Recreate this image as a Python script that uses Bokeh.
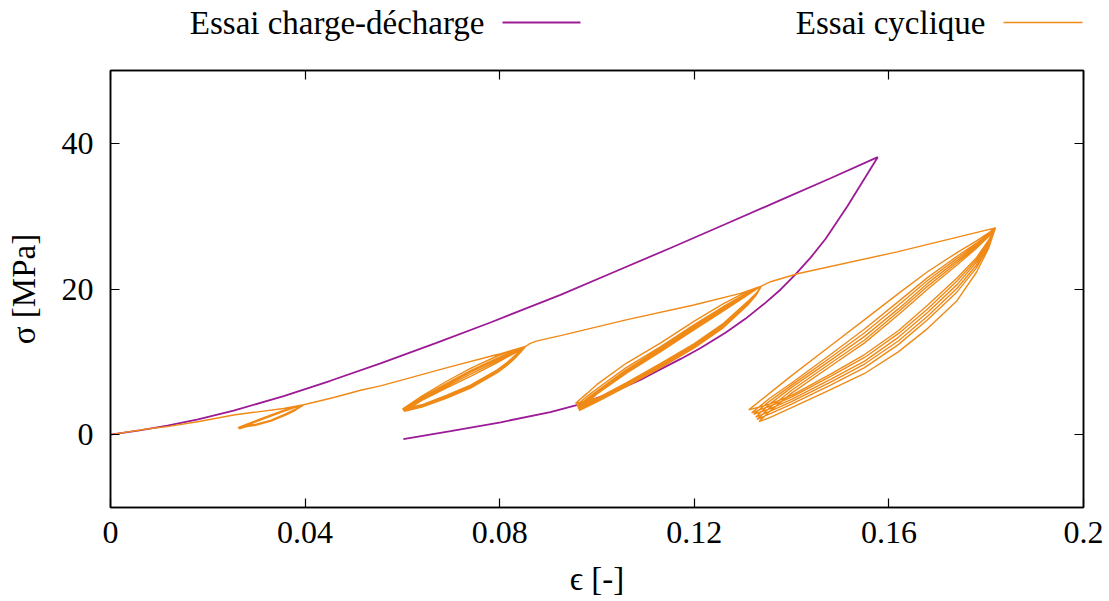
from bokeh.plotting import figure
from bokeh.layouts import column
from bokeh.models import Range1d, FixedTicker, LinearAxis, CustomJSTickFormatter, CustomLabelingPolicy
from bokeh.core.properties import value
from bokeh.embed import file_html
from bokeh.resources import INLINE

FONT = "Liberation Serif"
PURPLE = "#9c1a96"
ORANGE = "#ef8a17"

series_names = ["Essai charge-d\u00e9charge", "Essai cyclique"]
x_ticks = [0.0, 0.04, 0.08, 0.12, 0.16, 0.2]
y_ticks = [0, 20, 40]

# ---- purple: charge-décharge ----
cd_load_x = [0, 0.006, 0.0117, 0.018, 0.0253, 0.0356, 0.0452, 0.0555, 0.067, 0.0781,
             0.0925, 0.1034, 0.115, 0.1274, 0.1377, 0.148, 0.1577]
cd_load_y = [0, 0.6, 1.25, 2.1, 3.3, 5.3, 7.4, 9.8, 12.6, 15.4,
             19.2, 22.3, 25.6, 29.2, 32.2, 35.2, 38.1]
cd_unload_x = [0.1577, 0.1515, 0.1470, 0.1439, 0.1408, 0.1377, 0.1346, 0.1305, 0.1264, 0.1213,
               0.1172, 0.1131, 0.1089, 0.1028, 0.0966, 0.0904, 0.0802, 0.0699, 0.0602]
cd_unload_y = [38.1, 31.4, 26.9, 24.3, 22.0, 19.9, 18.1, 15.9, 14.0, 11.9,
               10.4, 9.0, 7.5, 5.7, 4.2, 3.1, 1.7, 0.5, -0.6]

# ---- orange: essai cyclique, monotone loading segments ----
cy_load0_x = [0, 0.0082, 0.0117, 0.0185, 0.0253, 0.0356, 0.0397]
cy_load0_y = [0, 0.85, 1.1, 1.85, 2.7, 3.6, 4.1]
cy_load1_x = [0.0425, 0.0459, 0.0514, 0.0555, 0.0692, 0.0795, 0.0853]
cy_load1_y = [4.55, 5.1, 6.1, 6.7, 9.2, 11.0, 12.1]
cy_load2_x = [0.0862, 0.0875, 0.0925, 0.1062, 0.1199, 0.1295, 0.1338]
cy_load2_y = [12.5, 12.85, 13.6, 15.8, 17.8, 19.4, 20.4]
cy_load3_x = [0.1357, 0.1412, 0.1617, 0.1819]
cy_load3_y = [21.0, 22.1, 25.1, 28.4]

# ---- loop A (eps = 0.026 .. 0.040) ----
loopA_top = (0.0397, 4.1)
loopA_grid = [0.028, 0.030, 0.033, 0.036, 0.038]
loopA_bottom_x = [0.0262, 0.0263, 0.0264, 0.0265]
loopA_bottom_y = [0.95, 0.9, 0.85, 0.8]
loopA_unload_y = [[1.25, 1.45, 2.0, 2.85, 3.5], [1.2, 1.4, 1.95, 2.8, 3.45],
                  [1.15, 1.35, 1.9, 2.75, 3.4], [1.1, 1.3, 1.85, 2.7, 3.35]]
loopA_reload_y = [[1.45, 1.95, 2.7, 3.45, 3.85], [1.4, 1.9, 2.65, 3.4, 3.8],
                  [1.35, 1.85, 2.6, 3.35, 3.78], [1.3, 1.8, 2.55, 3.3, 3.75]]

# ---- loop B (eps = 0.060 .. 0.085) ----
loopB_top = (0.0853, 12.1)
loopB_grid = [0.0640, 0.0690, 0.0740, 0.0795, 0.0815, 0.0830, 0.0843]
loopB_bottom_x = [0.0600, 0.0601, 0.0602, 0.0603, 0.0604]
loopB_bottom_y = [3.5, 3.4, 3.3, 3.25, 3.2]
loopB_unload_y = [[4.1, 5.4, 6.8, 8.9, 9.9, 10.8, 11.55], [4.0, 5.3, 6.7, 8.8, 9.8, 10.7, 11.5],
                  [3.9, 5.2, 6.6, 8.7, 9.7, 10.6, 11.45], [3.85, 5.1, 6.5, 8.6, 9.6, 10.5, 11.4],
                  [3.8, 5.0, 6.4, 8.5, 9.5, 10.4, 11.3]]
loopB_reload_y = [[5.3, 7.3, 9.1, 10.8, 11.3, 11.6, 11.9], [5.1, 7.0, 8.8, 10.5, 11.1, 11.45, 11.8],
                  [4.9, 6.8, 8.6, 10.3, 10.95, 11.35, 11.75], [4.8, 6.6, 8.3, 10.1, 10.8, 11.25, 11.7],
                  [4.7, 6.4, 8.0, 9.9, 10.65, 11.15, 11.65]]

# ---- loop C (eps = 0.096 .. 0.134) ----
loopC_top = (0.1338, 20.4)
loopC_grid = [0.0980, 0.1000, 0.1060, 0.1131, 0.1200, 0.1260, 0.1310, 0.1327]
loopC_bottom_x = [0.0956, 0.0958, 0.0960, 0.0961, 0.0962, 0.0963]
loopC_bottom_y = [4.3, 4.0, 3.8, 3.6, 3.5, 3.3]
loopC_unload_y = [[4.65, 5.0, 7.1, 9.8, 12.5, 15.3, 18.3, 19.4],
                  [4.45, 4.9, 7.0, 9.7, 12.4, 15.2, 18.2, 19.35],
                  [4.3, 4.8, 6.9, 9.5, 12.2, 15.0, 18.1, 19.3],
                  [4.15, 4.7, 6.8, 9.4, 12.1, 14.9, 18.0, 19.25],
                  [4.0, 4.6, 6.7, 9.3, 12.0, 14.8, 17.9, 19.2],
                  [3.85, 4.5, 6.6, 9.2, 11.9, 14.7, 17.8, 19.15]]
loopC_reload_y = [[5.7, 6.9, 9.8, 12.6, 15.6, 18.0, 19.7, 20.15],
                  [5.3, 6.3, 9.2, 12.1, 15.1, 17.6, 19.5, 20.1],
                  [5.0, 6.0, 8.9, 11.9, 14.9, 17.4, 19.4, 20.05],
                  [4.8, 5.8, 8.7, 11.7, 14.7, 17.2, 19.3, 20.0],
                  [4.6, 5.7, 8.5, 11.5, 14.5, 17.1, 19.25, 20.0],
                  [4.4, 5.6, 8.4, 11.4, 14.4, 17.0, 19.2, 19.95]]

# ---- loop D (eps = 0.131 .. 0.182) ----
loopD_top = (0.1819, 28.4)
loopD_grid = [0.1355, 0.140, 0.148, 0.155, 0.162, 0.168, 0.174, 0.178, 0.1805]
loopD_bottom_x = [0.1312, 0.1318, 0.1322, 0.1326, 0.1329, 0.1333]
loopD_bottom_y = [3.4, 3.0, 2.8, 2.4, 2.1, 1.8]
loopD_unload_y = [[4.2, 5.4, 8.3, 11.0, 14.3, 17.8, 21.5, 24.3, 26.7],
                  [3.9, 5.15, 8.0, 10.6, 13.9, 17.3, 21.1, 24.0, 26.5],
                  [3.55, 4.85, 7.6, 10.1, 13.4, 16.8, 20.6, 23.7, 26.3],
                  [3.2, 4.55, 7.2, 9.7, 12.9, 16.3, 20.1, 23.3, 26.1],
                  [2.85, 4.2, 6.8, 9.2, 12.4, 15.8, 19.6, 22.9, 25.9],
                  [2.35, 3.7, 6.2, 8.4, 11.4, 14.6, 18.4, 22.3, 25.6]]
loopD_reload_y = [[5.7, 8.1, 12.2, 15.8, 19.4, 22.4, 25.0, 26.6, 27.7],
                  [5.0, 7.1, 11.0, 14.5, 18.3, 21.6, 24.5, 26.3, 27.5],
                  [4.6, 6.8, 10.6, 14.0, 17.8, 21.2, 24.2, 26.1, 27.4],
                  [4.2, 6.5, 10.2, 13.5, 17.3, 20.8, 23.9, 25.9, 27.3],
                  [3.7, 6.1, 9.8, 13.0, 16.9, 20.4, 23.6, 25.8, 27.25],
                  [3.2, 5.7, 9.4, 12.6, 16.5, 20.0, 23.3, 25.6, 27.2]]


def add_loop(xs, ys, top, grid, bx, by, unload, reload):
    for k in range(len(bx)):
        xs.extend(reversed(grid)); ys.extend(reversed(unload[k]))
        xs.append(bx[k]); ys.append(by[k])
        xs.extend(grid); ys.extend(reload[k])
        xs.append(top[0]); ys.append(top[1])


cy_x, cy_y = list(cy_load0_x), list(cy_load0_y)
add_loop(cy_x, cy_y, loopA_top, loopA_grid, loopA_bottom_x, loopA_bottom_y, loopA_unload_y, loopA_reload_y)
cy_x += cy_load1_x; cy_y += cy_load1_y
add_loop(cy_x, cy_y, loopB_top, loopB_grid, loopB_bottom_x, loopB_bottom_y, loopB_unload_y, loopB_reload_y)
cy_x += cy_load2_x; cy_y += cy_load2_y
add_loop(cy_x, cy_y, loopC_top, loopC_grid, loopC_bottom_x, loopC_bottom_y, loopC_unload_y, loopC_reload_y)
cy_x += cy_load3_x; cy_y += cy_load3_y
add_loop(cy_x, cy_y, loopD_top, loopD_grid, loopD_bottom_x, loopD_bottom_y, loopD_unload_y, loopD_reload_y)

cd_x = cd_load_x + cd_unload_x[1:]
cd_y = cd_load_y + cd_unload_y[1:]

# ---------------- header (legend); its frame is aligned with the main frame (x 110..1083) ----------------
W = 1109
HH = 54
head = figure(width=W, height=HH, x_range=Range1d(110, 1083), y_range=Range1d(0, HH),
              x_axis_type=None, y_axis_type=None, toolbar_location=None,
              output_backend="svg", min_border=0)
head.outline_line_color = None
head.grid.visible = False
head.text(x=[484, 985], y=[HH - 22, HH - 22], text=series_names, text_align="right",
          text_baseline="middle", text_font=value(FONT), text_font_size="33px", text_color="black")
head.line(x=[502, 580], y=[HH - 22, HH - 22], line_color=PURPLE, line_width=1.8)
head.line(x=[1003, 1082], y=[HH - 22, HH - 22], line_color=ORANGE, line_width=1.5)

# ---------------- main plot ----------------
p = figure(width=W, height=601 - HH, x_range=Range1d(0, 0.2), y_range=Range1d(-10, 50),
           toolbar_location=None, output_backend="svg",
           min_border_left=110, min_border_right=26, min_border_top=0, min_border_bottom=94)
p.grid.visible = False
p.outline_line_color = "black"
p.outline_line_width = 1.5

p.line(cd_x, cd_y, line_color=PURPLE, line_width=1.8)
p.line(cy_x, cy_y, line_color=ORANGE, line_width=1.4)

fmt = CustomJSTickFormatter(code="var s = tick.toFixed(2).replace(/0+$/, ''); return s.replace(/\\.$/, '');")
hide_all = CustomLabelingPolicy(code="for (const i of indices) { indices.unset(i) } return indices")


def style_axis(ax, labels=True):
    ax.major_tick_in = 9
    ax.major_tick_out = 0
    ax.minor_tick_in = 0
    ax.minor_tick_out = 0
    ax.axis_line_color = "black"
    ax.axis_line_width = 1.5
    ax.major_tick_line_color = "black"
    ax.major_tick_line_width = 1.2
    if labels:
        ax.major_label_text_font = FONT
        ax.major_label_text_font_size = "32px"
        ax.major_label_text_color = "black"
        ax.axis_label_text_font = FONT
        ax.axis_label_text_font_size = "33px"
        ax.axis_label_text_font_style = "normal"
        ax.axis_label_text_color = "black"
    else:
        ax.major_label_policy = hide_all


xa = p.xaxis[0]
xa.ticker = FixedTicker(ticks=x_ticks)
xa.formatter = fmt
xa.axis_label = "\u03f5 [-]"
xa.major_label_standoff = 14
xa.axis_label_standoff = 15
style_axis(xa)

ya = p.yaxis[0]
ya.ticker = FixedTicker(ticks=y_ticks)
ya.axis_label = "\u03c3 [MPa]"
ya.major_label_standoff = 17
ya.axis_label_standoff = 17
style_axis(ya)

top_ax = LinearAxis(ticker=FixedTicker(ticks=x_ticks))
style_axis(top_ax, labels=False)
p.add_layout(top_ax, "above")
right_ax = LinearAxis(ticker=FixedTicker(ticks=y_ticks))
style_axis(right_ax, labels=False)
p.add_layout(right_ax, "right")

layout = column(head, p, spacing=0)
open("out.html", "w").write(file_html(layout, INLINE))
